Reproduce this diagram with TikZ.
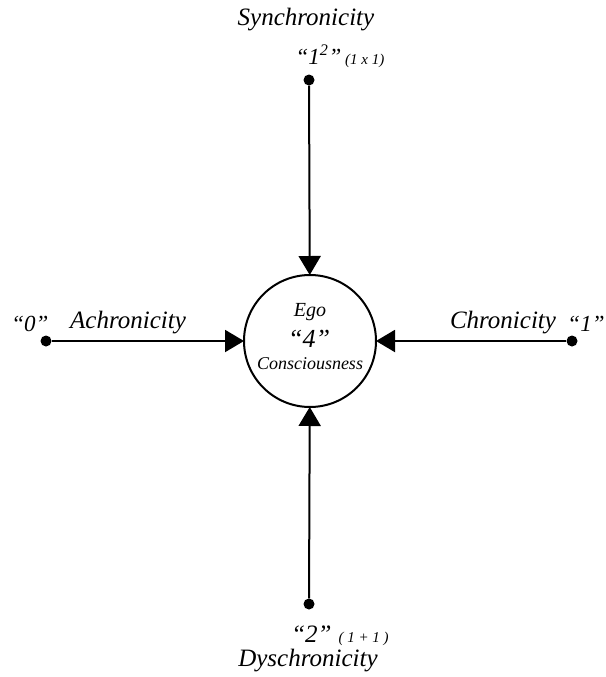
\documentclass[tikz,border=0pt]{standalone}
\usepackage{fontspec}
\setmainfont{Liberation Serif}
\usetikzlibrary{arrows.meta,positioning}

\tikzset{
  dot/.style={circle,fill=black,inner sep=0pt,minimum size=11pt},
  flow/.style={line width=2pt,-{Triangle[length=19pt,width=22pt]},shorten >=-1pt},
  lbl/.style={font=\itshape\fontsize{25}{28}\selectfont,inner sep=0pt},
  num/.style={font=\itshape\fontsize{23}{25}\selectfont,inner sep=0pt},
  inner/.style={font=\itshape\fontsize{20}{22}\selectfont,inner sep=0pt},
}

\begin{document}
\begin{tikzpicture}[x=1pt,y=-1pt]
\useasboundingbox (0,0) rectangle (605,677);
% centre
\node[draw,circle,line width=2pt,minimum size=132pt,inner sep=0pt] (ego) at (310,341) {};
\node[inner] (egoname) at (310,312) {Ego};
\node[inner,font=\itshape\fontsize{26}{28}\selectfont] (four) at (309,339) {“4”};
\node[inner,font=\itshape\fontsize{18}{20}\selectfont] (consc) at (310,364) {Consciousness};
% end points
\node[dot] (sync) at (309,80) {};
\node[dot] (dys) at (309,604) {};
\node[dot] (achr) at (46,341) {};
\node[dot] (chr) at (572,341) {};
% arrows
\draw[flow] (sync) -- (ego);
\draw[flow] (dys) -- (ego);
\draw[flow] (achr) -- (ego);
\draw[flow] (chr) -- (ego);
% labels
\node[lbl] (synclbl) at (306,20) {Synchronicity};
\node[num] (syncnum) at (340,56) {“1\textsuperscript{2}”\,{\fontsize{15}{17}\selectfont(1 x 1)}};
\node[lbl] (achrlbl) at (128,323) {Achronicity};
\node[num] (achrnum) at (30,324) {“0”};
\node[lbl] (chrlbl) at (503,323) {Chronicity};
\node[num] (chrnum) at (586,324) {“1”};
\node[num,font=\itshape\fontsize{25}{27}\selectfont] (dysnum) at (340,636) {“2”\;{\fontsize{15}{17}\selectfont( 1 + 1 )}};
\node[lbl] (dyslbl) at (308,661) {Dyschronicity};
\end{tikzpicture}
\end{document}
